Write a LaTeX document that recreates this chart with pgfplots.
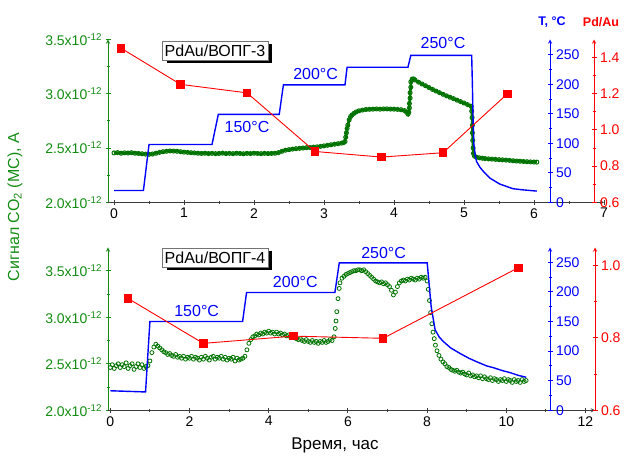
\documentclass[border=0pt]{standalone}
\usepackage{fontspec}
\setmainfont{Liberation Sans}
\usepackage{pgfplots}
\usepackage{pgfplotstable}
\pgfplotsset{compat=1.18}

\definecolor{grn}{RGB}{20,140,20}
\definecolor{mk}{RGB}{0,115,0}
\definecolor{blu}{RGB}{0,0,255}
\definecolor{rd}{RGB}{255,0,0}
\definecolor{xax}{RGB}{60,60,60}

\pgfplotsset{
  base/.style={
    scale only axis, anchor=south west,
    font=\fontsize{14}{16}\selectfont,
    /pgf/number format/assume math mode=true,
    tick align=outside, major tick length=5pt, minor tick length=3pt,
    axis line style={-, line width=0.9pt},
    every outer x axis line/.append style={-},
    every outer y axis line/.append style={-},
    every tick/.style={line width=0.9pt},
    clip=false,
  },
  gaxis/.style={base,
    axis x line=bottom, axis y line=left,
    y axis line style={grn}, ytick style={grn}, yticklabel style={grn},
    x axis line style={xax}, xtick style={xax}, xticklabel style={black},
    minor x tick num=1, minor y tick num=1,
    ytick={2,2.5,3,3.5},
    yticklabels={2.0x10\textsuperscript{-12},2.5x10\textsuperscript{-12},3.0x10\textsuperscript{-12},3.5x10\textsuperscript{-12}},
  },
  baxis/.style={base,
    axis x line=none, axis y line=right,
    y axis line style={blu}, ytick style={blu}, yticklabel style={blu},
    ymin=0, ytick={0,50,100,150,200,250}, minor y tick num=1,
  },
  raxis/.style={base,
    axis x line=none, axis y line=right,
    y axis line style={rd}, ytick style={rd}, yticklabel style={rd},
    minor y tick num=1,
    yticklabel={\pgfmathprintnumber[fixed,fixed zerofill,precision=1]{\tick}},
  },
  gdata/.style={only marks, mark=o, mark size=2pt, mk, mark options={line width=0.8pt}},
  bdata/.style={blu, line width=1.4pt, no marks},
  rdata/.style={rd, line width=0.9pt, mark=square*, mark size=3.8pt},
}

% CO2 signal, PdAu/VOPG-3 (units of 1e-12 A)
\pgfplotstableread{
t s
0.00 2.455
0.05 2.458
0.10 2.452
0.15 2.456
0.20 2.454
0.25 2.457
0.30 2.452
0.35 2.450
0.40 2.447
0.45 2.444
0.50 2.442
0.55 2.445
0.60 2.452
0.65 2.460
0.70 2.466
0.75 2.470
0.80 2.473
0.85 2.472
0.90 2.470
0.95 2.466
1.00 2.462
1.05 2.460
1.10 2.457
1.15 2.455
1.20 2.452
1.25 2.450
1.30 2.452
1.35 2.449
1.40 2.451
1.45 2.448
1.50 2.450
1.55 2.453
1.60 2.449
1.65 2.451
1.70 2.448
1.75 2.452
1.80 2.450
1.85 2.447
1.90 2.451
1.95 2.449
2.00 2.452
2.05 2.450
2.10 2.448
2.15 2.451
2.20 2.449
2.25 2.450
2.30 2.452
2.35 2.458
2.40 2.470
2.45 2.480
2.50 2.485
2.55 2.490
2.60 2.494
2.65 2.497
2.70 2.500
2.75 2.503
2.80 2.505
2.85 2.508
2.90 2.511
2.95 2.515
3.00 2.520
3.05 2.525
3.10 2.530
3.15 2.535
3.20 2.540
3.25 2.545
3.28 2.550
3.30 2.560
3.31 2.600
3.32 2.640
3.33 2.680
3.34 2.710
3.36 2.760
3.38 2.790
3.40 2.805
3.43 2.820
3.46 2.833
3.50 2.843
3.55 2.850
3.60 2.855
3.65 2.857
3.70 2.858
3.75 2.860
3.80 2.858
3.85 2.860
3.90 2.861
3.95 2.859
4.00 2.858
4.05 2.856
4.10 2.853
4.15 2.845
4.18 2.830
4.20 2.812
4.21 2.830
4.22 2.870
4.22 2.910
4.23 2.960
4.23 3.010
4.24 3.060
4.24 3.110
4.26 3.135
4.28 3.137
4.30 3.127
4.35 3.107
4.40 3.090
4.45 3.074
4.50 3.057
4.55 3.040
4.60 3.025
4.65 3.010
4.70 2.995
4.75 2.981
4.80 2.968
4.85 2.955
4.90 2.941
4.95 2.928
5.00 2.915
5.05 2.900
5.10 2.886
5.11 2.840
5.115 2.780
5.12 2.710
5.12 2.640
5.125 2.570
5.13 2.500
5.135 2.450
5.15 2.425
5.18 2.415
5.22 2.410
5.26 2.406
5.30 2.403
5.35 2.400
5.40 2.398
5.45 2.395
5.50 2.393
5.55 2.391
5.60 2.389
5.65 2.386
5.70 2.383
5.75 2.380
5.80 2.378
5.85 2.376
5.90 2.374
5.95 2.372
6.00 2.371
6.04 2.370
}\cotop

\begin{document}
\begin{tikzpicture}
\useasboundingbox (0pt,0pt) rectangle (629pt,463pt);

% ---------------- top panel ----------------
\begin{axis}[gaxis, at={(108pt,260.7pt)}, width=496pt, height=162.8pt,
  xmin=-0.086, xmax=7, ymin=2, ymax=3.5, xtick={0,1,2,3,4,5,6,7}]
\addplot[mk, line width=2.6pt, no marks] table[x=t, y=s] {\cotop};
\addplot[gdata, mark options={line width=1pt}] table[x=t, y=s] {\cotop};
\end{axis}

\begin{axis}[baxis, at={(108pt,260.7pt)}, width=442pt, height=162.8pt,
  xmin=-0.086, xmax=6.229, ymax=276]
\addplot[bdata] coordinates {
(0,20)(0.42,20)(0.50,98)(1.40,98)(1.49,149)(2.36,149)(2.42,199)(3.30,199)(3.33,229)
(4.20,229)(4.24,249)(5.11,249)(5.12,200)(5.13,140)(5.14,100)(5.16,80)(5.18,69)
(5.23,59)(5.28,52)(5.37,41)(5.51,31)(5.70,23)(5.85,21)(6.04,19)
};
\node[blu, font=\fontsize{16}{18}\selectfont] at (axis cs:1.90,128) {150°C};
\node[blu, font=\fontsize{16}{18}\selectfont] at (axis cs:2.88,218) {200°C};
\node[blu, font=\fontsize{16}{18}\selectfont] at (axis cs:4.70,270) {250°C};
\end{axis}

\begin{axis}[raxis, at={(108pt,260.7pt)}, width=486pt, height=162.8pt,
  xmin=-0.086, xmax=6.857, ymin=0.6, ymax=1.5, ytick={0.6,0.8,1.0,1.2,1.4}]
\addplot[rdata] coordinates {
(0.10,1.452)(0.95,1.252)(1.90,1.205)(2.87,0.881)(3.82,0.850)(4.70,0.874)(5.62,1.200)
};
\end{axis}

% ---------------- bottom panel ----------------
\begin{axis}[gaxis, at={(108pt,52.7pt)}, width=487pt, height=162.8pt,
  xmin=-0.058, xmax=12.24, ymin=2, ymax=3.75, xtick={0,2,4,6,8,10,12}]
\addplot[gdata] coordinates {
(0.00,2.46)(0.05,2.49)(0.10,2.45)(0.15,2.48)(0.20,2.50)(0.25,2.46)(0.30,2.49)(0.35,2.47)
(0.40,2.51)(0.45,2.45)(0.50,2.48)(0.55,2.50)(0.60,2.44)(0.65,2.47)(0.70,2.50)(0.75,2.46)
(0.80,2.49)(0.85,2.45)(0.90,2.47)(0.95,2.48)(1.00,2.53)(1.05,2.62)(1.10,2.68)(1.15,2.71)
(1.20,2.69)(1.25,2.67)(1.30,2.65)(1.35,2.63)(1.40,2.62)(1.45,2.60)(1.50,2.61)(1.55,2.59)
(1.60,2.58)(1.65,2.60)(1.70,2.57)(1.75,2.58)(1.80,2.56)(1.85,2.58)(1.90,2.55)(1.95,2.57)
(2.00,2.56)(2.05,2.58)(2.10,2.55)(2.15,2.57)(2.20,2.56)(2.25,2.54)(2.30,2.57)(2.35,2.55)
(2.40,2.58)(2.45,2.56)(2.50,2.54)(2.55,2.57)(2.60,2.58)(2.65,2.55)(2.70,2.57)(2.75,2.56)
(2.80,2.58)(2.85,2.55)(2.90,2.57)(2.95,2.54)(3.00,2.56)(3.05,2.55)(3.10,2.57)(3.15,2.53)
(3.20,2.56)(3.25,2.54)(3.30,2.55)(3.35,2.56)(3.40,2.58)(3.45,2.65)(3.50,2.72)(3.55,2.76)
(3.60,2.79)(3.65,2.80)(3.70,2.82)(3.75,2.81)(3.80,2.83)(3.85,2.82)(3.90,2.84)(3.95,2.83)
(4.00,2.85)(4.05,2.83)(4.10,2.84)(4.15,2.82)(4.20,2.84)(4.25,2.82)(4.30,2.83)(4.35,2.81)
(4.40,2.82)(4.45,2.80)(4.50,2.81)(4.55,2.79)(4.60,2.80)(4.65,2.78)(4.70,2.77)(4.75,2.76)
(4.80,2.77)(4.85,2.75)(4.90,2.74)(4.95,2.76)(5.00,2.74)(5.05,2.73)(5.10,2.75)(5.15,2.73)
(5.20,2.74)(5.25,2.72)(5.30,2.74)(5.35,2.73)(5.40,2.75)(5.45,2.73)(5.50,2.74)(5.55,2.76)
(5.60,2.75)(5.65,2.79)(5.68,2.88)(5.70,2.96)(5.72,3.06)(5.75,3.20)(5.78,3.31)(5.80,3.37)
(5.85,3.42)(5.90,3.44)(5.95,3.46)(6.00,3.47)(6.05,3.48)(6.10,3.49)(6.15,3.50)(6.20,3.50)
(6.25,3.51)(6.30,3.51)(6.35,3.50)(6.40,3.51)(6.45,3.49)(6.50,3.47)(6.55,3.45)(6.60,3.43)
(6.65,3.41)(6.70,3.39)(6.75,3.38)(6.80,3.37)(6.85,3.38)(6.90,3.36)(6.95,3.37)(7.00,3.35)
(7.05,3.33)(7.10,3.29)(7.15,3.24)(7.20,3.27)(7.25,3.33)(7.30,3.37)(7.35,3.39)(7.40,3.40)
(7.45,3.39)(7.50,3.41)(7.55,3.40)(7.60,3.42)(7.65,3.41)(7.70,3.40)(7.75,3.42)(7.80,3.41)
(7.85,3.43)(7.90,3.42)(7.95,3.43)(8.00,3.39)(8.03,3.30)(8.06,3.18)(8.09,3.05)(8.12,2.93)
(8.15,2.84)(8.18,2.77)(8.21,2.70)(8.25,2.64)(8.30,2.59)(8.35,2.55)(8.40,2.52)(8.45,2.50)
(8.50,2.47)(8.55,2.46)(8.60,2.44)(8.65,2.43)(8.70,2.42)(8.75,2.43)(8.80,2.41)(8.85,2.40)
(8.90,2.41)(8.95,2.39)(9.00,2.38)(9.05,2.40)(9.10,2.37)(9.15,2.38)(9.20,2.36)(9.25,2.37)
(9.30,2.35)(9.35,2.37)(9.40,2.34)(9.45,2.36)(9.50,2.34)(9.55,2.33)(9.60,2.35)(9.65,2.32)
(9.70,2.34)(9.75,2.33)(9.80,2.31)(9.85,2.33)(9.90,2.32)(9.95,2.34)(10.00,2.31)(10.05,2.33)
(10.10,2.32)(10.15,2.30)(10.20,2.33)(10.25,2.31)(10.30,2.32)(10.35,2.30)(10.40,2.33)
(10.45,2.31)(10.50,2.32)
};
\end{axis}

\begin{axis}[baxis, at={(108pt,52.7pt)}, width=442pt, height=162.8pt,
  xmin=-0.058, xmax=11.10, ymax=275]
\addplot[bdata] coordinates {
(0,33)(0.45,32)(0.89,31)(1.00,150)(3.34,150)(3.44,199)(5.67,199)(5.78,249)(8.00,249)
(8.10,175)(8.20,136)(8.30,124)(8.41,116)(8.60,105)(8.83,96)(9.05,88)(9.25,82)(9.50,75)
(9.67,72)(9.90,67)(10.10,63.5)(10.30,59)(10.50,55.7)
};
\node[blu, font=\fontsize{16}{18}\selectfont] at (axis cs:2.18,167) {150°C};
\node[blu, font=\fontsize{16}{18}\selectfont] at (axis cs:4.67,217) {200°C};
\node[blu, font=\fontsize{16}{18}\selectfont] at (axis cs:6.90,266) {250°C};
\end{axis}

\begin{axis}[raxis, at={(108pt,52.7pt)}, width=487pt, height=162.8pt,
  xmin=-0.058, xmax=12.24, ymin=0.6, ymax=1.05, ytick={0.6,0.8,1.0}]
\addplot[rdata] coordinates {
(0.45,0.909)(2.35,0.785)(4.62,0.805)(6.89,0.799)(10.30,0.994)
};
\end{axis}

% ---------------- labels ----------------
\foreach \yc/\txt in {412.5/{PdAu/ВОПГ-3}, 205.5/{PdAu/ВОПГ-4}} {
  \fill[black] (167pt,\yc pt-13pt) rectangle (272pt,\yc pt+6pt);
  \node[draw=black!55, line width=0.6pt, fill=white, minimum width=106pt, minimum height=19pt,
        inner sep=0pt, font=\fontsize{16}{18}\selectfont] at (215pt,\yc pt) {\txt};
}
\node[blu, font=\bfseries\fontsize{12.5}{14}\selectfont] at (552pt,441pt) {T, °C};
\node[rd, font=\bfseries\fontsize{12.5}{14}\selectfont] at (601pt,441pt) {Pd/Au};
\node[grn, rotate=90, font=\fontsize{16}{18}\selectfont] at (15pt,256pt) {Сигнал CO\textsubscript{2} (MC), A};
\node[black, font=\fontsize{17}{19}\selectfont] at (335pt,18pt) {Время, час};
\end{tikzpicture}
\end{document}
